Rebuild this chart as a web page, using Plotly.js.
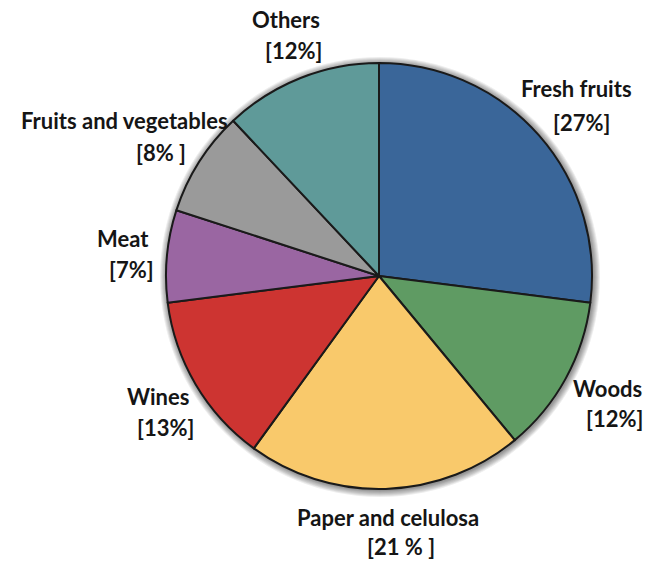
<!DOCTYPE html>
<html>
<head>
<meta charset="utf-8">
<script src="https://cdn.plot.ly/plotly-3.0.1.min.js"></script>
<style>html,body{margin:0;padding:0;background:#fff;}#chart{width:659px;height:569px;}</style>
</head>
<body>
<div id="chart"></div>
<script>
// Data
const categories = ["Fresh fruits", "Woods", "Paper and celulosa", "Wines", "Meat", "Fruits and vegetables", "Others"];
const shares = [27, 12, 21, 13, 7, 8, 12];
const shareLabels = ["[27%]", "[12%]", "[21 % ]", "[13%]", "[7%]", "[8% ]", "[12%]"];
const colors = ["#3A6699", "#5F9B63", "#F9C96B", "#CD3431", "#9A66A2", "#9A9A9A", "#5F9A99"];

// label placement (pixel centres) for the two text lines of each label
const nameXY = [[576, 89], [607, 388], [388, 517], [158, 396], [123, 239], [124, 120], [286, 20]];
const pctXY  = [[581, 122], [614, 418], [401, 546], [165, 427], [131, 269], [161, 152], [293, 50]];

const W = 659, H = 569;
const cx = 379, cy = 276, r = 213;

const font = {family: "Lato, 'Open Sans', sans-serif", size: 22, color: "#151515", weight: 900};
const annotations = [];
categories.forEach((c, i) => {
  annotations.push({x: nameXY[i][0] / W, y: 1 - nameXY[i][1] / H, xref: "paper", yref: "paper",
    text: "<b>" + c + "</b>", showarrow: false, xanchor: "center", yanchor: "middle", font: font});
  annotations.push({x: pctXY[i][0] / W, y: 1 - pctXY[i][1] / H, xref: "paper", yref: "paper",
    text: "<b>" + shareLabels[i] + "</b>", showarrow: false, xanchor: "center", yanchor: "middle", font: font});
});

// soft shadow rings behind the pie
const shapes = [];
for (let k = 7; k >= 1; k--) {
  shapes.push({type: "circle", xref: "paper", yref: "paper", layer: "below",
    x0: (cx - r - k + 1) / W, x1: (cx + r + k + 1) / W,
    y0: 1 - (cy + r + k + 1) / H, y1: 1 - (cy - r - k + 1) / H,
    fillcolor: "rgba(0,0,0,0.07)", line: {width: 0}});
}

const trace = {
  type: "pie",
  labels: categories,
  values: shares,
  sort: false,
  direction: "clockwise",
  rotation: 0,
  marker: {colors: colors, line: {color: "#1a1a1a", width: 2}},
  textinfo: "none",
  hoverinfo: "label+percent",
  showlegend: false,
  domain: {x: [(cx - r) / W, (cx + r) / W], y: [1 - (cy + r) / H, 1 - (cy - r) / H]}
};

const layout = {
  width: W, height: H,
  margin: {l: 0, r: 0, t: 0, b: 0},
  paper_bgcolor: "#fff",
  showlegend: false,
  annotations: annotations,
  shapes: shapes
};

Plotly.newPlot("chart", [trace], layout, {displayModeBar: false, staticPlot: true});
</script>
</body>
</html>
